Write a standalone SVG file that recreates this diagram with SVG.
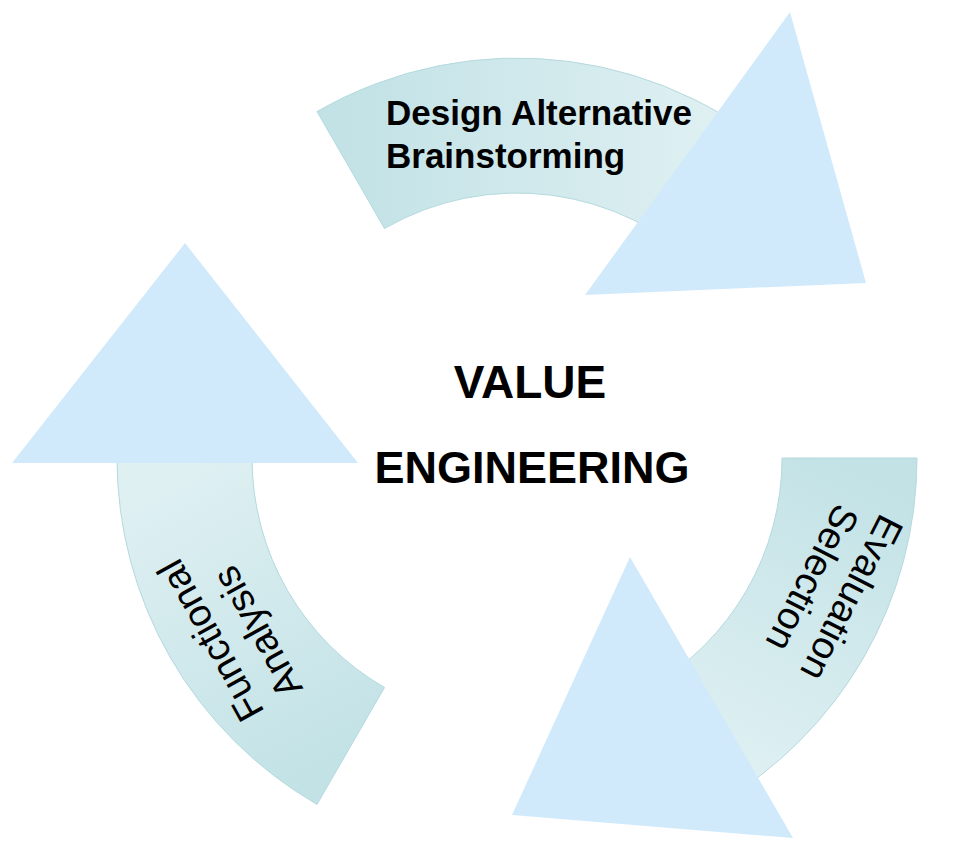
<svg xmlns="http://www.w3.org/2000/svg" width="960" height="858" viewBox="0 0 960 858">
  <defs>
    <style>
      .band { stroke: #b4d9de; stroke-width: 1; }
      .head { fill: #d1eafb; stroke: none; }
      .lbl { font-family: "Liberation Sans", Arial, sans-serif; fill: #000; }
      .lblb { font-family: "Liberation Sans", Arial, sans-serif; font-weight: bold; fill: #000; }
    </style>
    <linearGradient id="gTop" gradientUnits="userSpaceOnUse" x1="340" y1="170" x2="720" y2="170">
      <stop offset="0" stop-color="#c2e2e6"/>
      <stop offset="1" stop-color="#dff0f2"/>
    </linearGradient>
    <linearGradient id="gRight" gradientUnits="userSpaceOnUse" x1="850" y1="458" x2="700" y2="760">
      <stop offset="0" stop-color="#c2e2e6"/>
      <stop offset="1" stop-color="#dff0f2"/>
    </linearGradient>
    <linearGradient id="gLeft" gradientUnits="userSpaceOnUse" x1="350" y1="760" x2="185" y2="460">
      <stop offset="0" stop-color="#c2e2e6"/>
      <stop offset="1" stop-color="#dff0f2"/>
    </linearGradient>
  </defs>

  <rect x="0" y="0" width="960" height="858" fill="#ffffff"/>

  <g id="node-design">
    <path class="band" fill="url(#gTop)" d="M317,111.6 A400,400 0 0 1 799.8,175.2 L704.4,270.6 A265,265 0 0 0 384.5,228.5 Z"/>
  </g>
  <g id="node-evaluation">
    <path class="band" fill="url(#gRight)" d="M917,458 A400,400 0 0 1 717,804.4 L649.5,687.5 A265,265 0 0 0 782,458 Z"/>
  </g>
  <g id="node-functional">
    <path class="band" fill="url(#gLeft)" d="M317,804.4 A400,400 0 0 1 117,458 L252,458 A265,265 0 0 0 384.5,687.5 Z"/>
  </g>

  <g id="connectors">
    <polygon class="head" points="790,12 866,283 585,295"/>
    <polygon class="head" points="630,557 793,838 512,815"/>
    <polygon class="head" points="185,243 358,463 12,463"/>
  </g>

  <g id="labels">
    <text class="lblb" font-size="35" x="386" y="125">Design Alternative</text>
    <text class="lblb" font-size="35" x="386" y="168">Brainstorming</text>
    <g transform="translate(840,592) rotate(117)">
      <text class="lbl" font-size="38.5" text-anchor="middle" x="0" y="0">Evaluation</text>
      <text class="lbl" font-size="38.5" text-anchor="middle" x="0" y="44">Selection</text>
    </g>
    <g transform="translate(265,712) rotate(241)">
      <text class="lbl" font-size="38.5" x="0" y="0">Functional</text>
      <text class="lbl" font-size="38.5" x="2" y="45">Analysis</text>
    </g>
  </g>

  <g id="node-center">
    <text class="lblb" font-size="46" text-anchor="middle" x="530" y="398">VALUE</text>
    <text class="lblb" font-size="45" text-anchor="middle" x="532" y="483">ENGINEERING</text>
  </g>
</svg>
